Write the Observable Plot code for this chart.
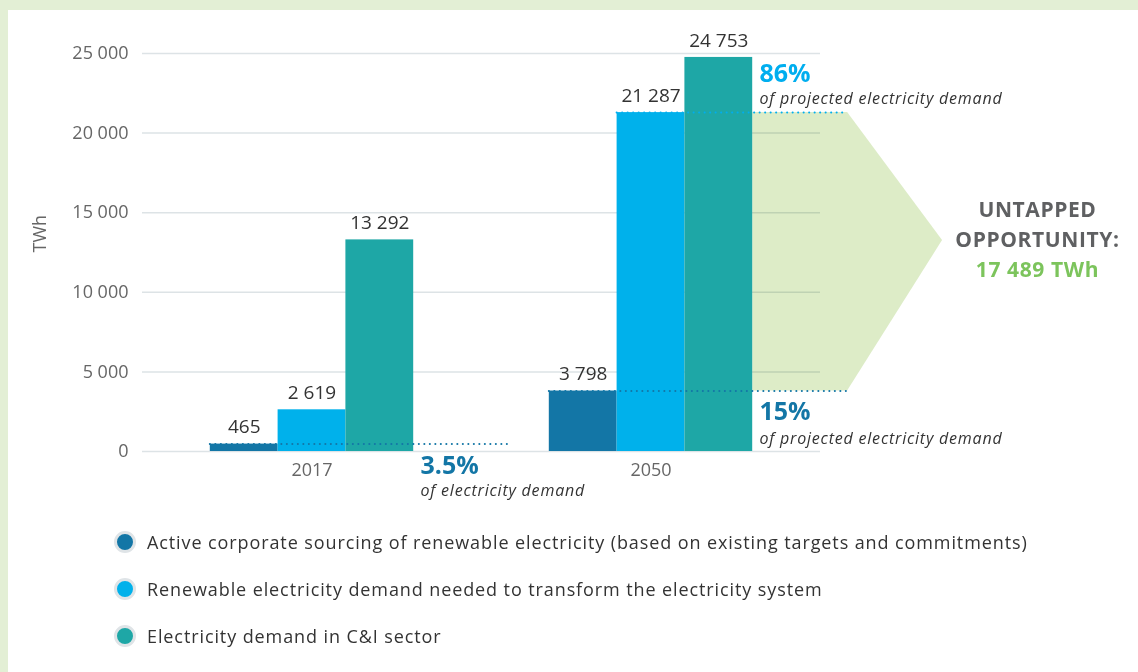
<!DOCTYPE html>
<html>
<head>
<meta charset="utf-8">
<script src="https://cdn.jsdelivr.net/npm/d3@7"></script>
<script src="https://cdn.jsdelivr.net/npm/@observablehq/plot@0.6"></script>
<style>
  html, body { margin: 0; padding: 0; }
  body { width: 1138px; height: 672px; background: #e3efd5; position: relative; overflow: hidden; font-family: "Open Sans", sans-serif; }
  #panel { position: absolute; left: 8px; top: 10px; right: 0; bottom: 0; background: #fff; }
  #chart { position: absolute; left: 0; top: 0; }
  #legend { position: absolute; left: 114px; top: 518px; }
  .row { display: flex; align-items: center; height: 47px; font-size: 18px; color: #333; letter-spacing: 0.9px; }
  .dot { width: 16px; height: 16px; border-radius: 50%; border: 3px solid #dfe4e7; margin-right: 11px; }
</style>
</head>
<body>
<div id="panel"></div>
<div id="chart"></div>
<div id="legend"></div>
<script>
// ---- data ----
const years = ["2017", "2050"];
const seriesNames = [
  "Active corporate sourcing of renewable electricity (based on existing targets and commitments)",
  "Renewable electricity demand needed to transform the electricity system",
  "Electricity demand in C&I sector"
];
const seriesColors = ["#1376a6", "#00b1eb", "#1ea7a6"];
const values2017 = [465, 2619, 13292];
const values2050 = [3798, 21287, 24753];
const yTicks = [0, 5000, 10000, 15000, 20000, 25000];
const shareLabels = ["3.5%", "15%", "86%"];
const shareSubs = ["of electricity demand", "of projected electricity demand", "of projected electricity demand"];
const untappedLines = ["UNTAPPED", "OPPORTUNITY:", "17 489 TWh"];
const arrowTipValue = 13250;

// ---- layout helpers (bar slots: each group = 3 bars, groups 5 slots apart) ----
const fmt = d3.formatLocale({thousands: " ", grouping: [3], decimal: "."}).format(",");
const groupStart = i => 1 + 5 * i;
const valuesByYear = [values2017, values2050];
const bars = years.flatMap((yr, i) => valuesByYear[i].map((v, j) => ({
  year: yr, series: j, x1: groupStart(i) + j, x2: groupStart(i) + j + 1, value: v
})));
const groupCenters = years.map((_, i) => groupStart(i) + 1.5);

const lineEnd2050 = groupStart(1) + 4.4;
const lineEnd2017 = groupStart(0) + 4.43;
const dotted = [
  {x1: groupStart(0), x2: lineEnd2017, y: values2017[0], c: seriesColors[0]},
  {x1: groupStart(1), x2: lineEnd2050, y: values2050[0], c: seriesColors[0]},
  {x1: groupStart(1) + 1, x2: lineEnd2050, y: values2050[1], c: "#00aeef"}
];
const arrow = [
  {x: groupStart(1) + 3, y1: values2050[0], y2: values2050[1]},
  {x: lineEnd2050, y1: values2050[0], y2: values2050[1]},
  {x: groupStart(1) + 5.8, y1: arrowTipValue, y2: arrowTipValue}
];
const shareTexts = [
  {x: groupStart(0) + 3.1, y: values2017[0], t: shareLabels[0], s: shareSubs[0], c: seriesColors[0], dy1: 22, dy2: 47},
  {x: groupStart(1) + 3.1, y: values2050[0], t: shareLabels[1], s: shareSubs[1], c: seriesColors[0], dy1: 21, dy2: 48},
  {x: groupStart(1) + 3.1, y: values2050[1], t: shareLabels[2], s: shareSubs[2], c: "#00aeef", dy1: -39, dy2: -14}
];
const untapped = untappedLines.map((t, k) => ({t, k, x: groupStart(1) + 7.2, y: arrowTipValue}));

const FONT = "Open Sans, sans-serif";

const shareMarks = shareTexts.flatMap((d) => [
  Plot.text([d], {x: "x", y: "y", text: "t", dy: d.dy1, textAnchor: "start", fontSize: 25, fontWeight: "bold", fill: d.c}),
  Plot.text([d], {x: "x", y: "y", text: "s", dy: d.dy2, textAnchor: "start", fontSize: 16, fontStyle: "italic", fill: "#333"})
]);
const untappedMarks = untapped.map((d) =>
  Plot.text([d], {x: "x", y: "y", text: "t", dy: (d.k - 1) * 30, fontSize: 21, fontWeight: "bold", fill: d.k === 2 ? "#7cc45c" : "#5f6062"})
);

const chart = Plot.plot({
  width: 1138,
  height: 510,
  marginLeft: 142,
  marginRight: 318,
  marginTop: 53,
  marginBottom: 59,
  style: {fontFamily: FONT, fontSize: "17px", color: "#666", background: "transparent", overflow: "visible"},
  x: {type: "linear", domain: [0, 10], axis: null},
  y: {domain: [0, 25000], axis: null},
  marks: [
    Plot.areaY(arrow, {x: "x", y1: "y1", y2: "y2", fill: "#ddecc7", curve: "linear"}),
    Plot.gridY(yTicks, {stroke: "#dde3e6", strokeOpacity: 1, strokeWidth: 1.5, mixBlendMode: "multiply"}),
    Plot.axisY({ticks: yTicks, tickFormat: fmt, tickSize: 0, tickPadding: 14, label: null, fontSize: 18, fill: "#666"}),
    Plot.axisX({ticks: groupCenters, tickFormat: (d) => years[groupCenters.indexOf(d)], tickSize: 0, tickPadding: 12, label: null, fontSize: 18, fill: "#666"}),
    Plot.text(["TWh"], {frameAnchor: "left", rotate: -90, dx: -102, fontSize: 18, fill: "#666"}),
    Plot.rectY(bars, {x1: "x1", x2: "x2", y: "value", fill: (d) => seriesColors[d.series]}),
    Plot.ruleY(dotted, {x1: "x1", x2: "x2", y: "y", stroke: "c", strokeWidth: 2, strokeDasharray: "0.1,5.4", strokeLinecap: "round"}),
    Plot.text(bars, {x: (d) => (d.x1 + d.x2) / 2, y: "value", text: (d) => fmt(d.value), dy: -17, fontSize: 19, fill: "#333"}),
    ...shareMarks,
    ...untappedMarks
  ]
});
document.getElementById("chart").appendChild(chart);
// widen the italic annotation type and the call-out type a little, as in the original
d3.select(chart).selectAll("g[font-style='italic'] text").style("letter-spacing", "0.8px");
d3.select(chart).selectAll("g[font-size='21'] text").style("letter-spacing", "0.6px");

const legend = document.getElementById("legend");
seriesNames.forEach((name, i) => {
  const row = document.createElement("div");
  row.className = "row";
  const dot = document.createElement("span");
  dot.className = "dot";
  dot.style.background = seriesColors[i];
  const lab = document.createElement("span");
  lab.textContent = name;
  row.appendChild(dot);
  row.appendChild(lab);
  legend.appendChild(row);
});
</script>
</body>
</html>
